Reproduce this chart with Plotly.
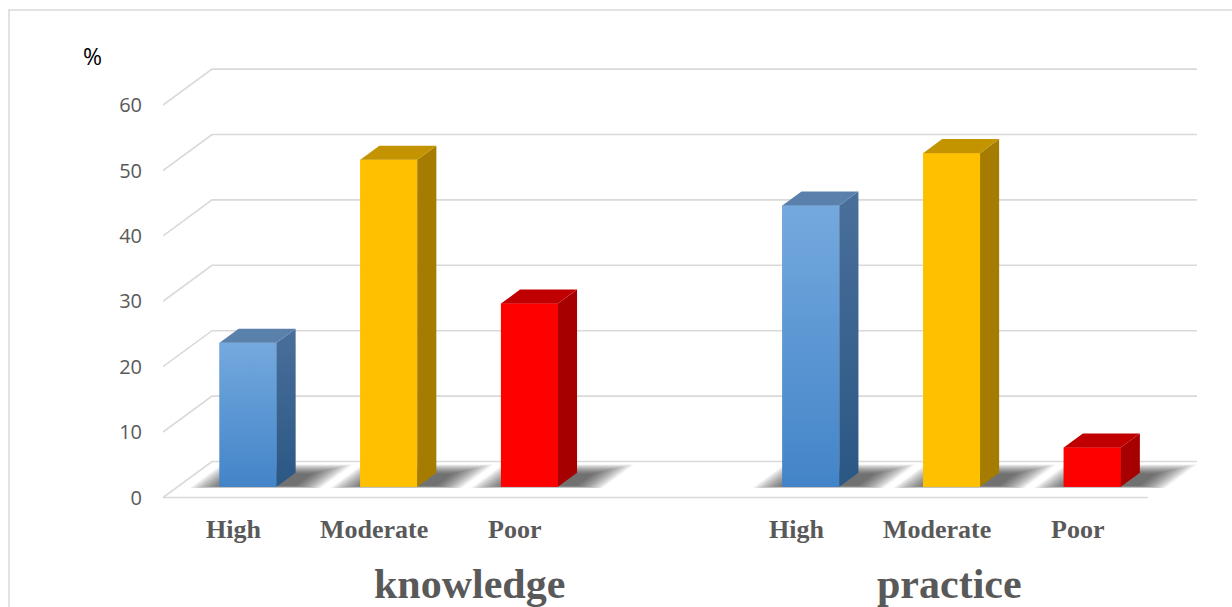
import plotly.graph_objects as go

# ---- data -------------------------------------------------------------
groups = ["knowledge", "practice"]
levels = ["High", "Moderate", "Poor"]
knowledge = [22, 50, 28]
practice = [43, 51, 6]
y_ticks = [0, 10, 20, 30, 40, 50, 60]

# ---- styling / geometry of the pseudo-3D view ------------------------
W, H = 1232, 607
SLOT_PX = 140.7          # pixels per category slot
UNIT_PX = 6.54           # pixels per percentage point
X0_PX = 163              # left front edge of the floor
Y0_PX = 497.5            # front floor line (value 0)
DX, DY = 49 / SLOT_PX, 36 / UNIT_PX     # full depth of the box (x in slots, y in %)
F = 0.30                 # depth of the bar front face
B = 0.39                 # bar depth (fraction of box depth)
BW = 0.405               # bar width in slots
N_SLOTS = 7
GRID = "#d9d9d9"
TXT = "#595959"

front = {"High": ["#74a9de", "#4384c8"], "Moderate": ["#ffc000", "#ffc000"], "Poor": ["#ff0000", "#ff0000"]}
side = {"High": ["#4a6f9b", "#2b5784"], "Moderate": ["#a67c00", "#a67c00"], "Poor": ["#a60000", "#a60000"]}
top = {"High": "#5a80ac", "Moderate": "#c49400", "Poor": "#c00000"}

slots = [0, 1, 2, 4, 5, 6]
values = knowledge + practice
cats = levels + levels

x_lo = -0.5
x_hi = x_lo + (W - X0_PX) / SLOT_PX
y_lo = (Y0_PX - H) / UNIT_PX
y_hi = Y0_PX / UNIT_PX

fig = go.Figure()
shapes = []

# chart border
shapes.append(dict(type="rect", xref="paper", yref="paper", x0=9 / W, x1=1.02, y0=-0.02, y1=1 - 10 / H,
                   line=dict(color=GRID, width=1.5), fillcolor="rgba(0,0,0,0)", layer="below"))


def lerp(a, b, t):
    return a + (b - a) * t


# soft floor shadows around each bar foot (stacked translucent layers)
N_SH = 20
for s in slots:
    xl_bar = s + F * DX - BW / 2
    xr_bar = xl_bar + BW + B * DX
    outer = (xl_bar - 0.20, xr_bar + 0.19, 0.26, 0.92)
    inner = (xl_bar + 0.01, xr_bar - 0.01, 0.32, 0.66)
    for k in range(N_SH):
        t = k / (N_SH - 1)
        xl, xr, d0, d1 = (lerp(o, i, t) for o, i in zip(outer, inner))
        p = (f"M {xl + (d0 - F) * DX},{d0 * DY} L {xr + (d0 - F) * DX},{d0 * DY} "
             f"L {xr + (d1 - F) * DX},{d1 * DY} L {xl + (d1 - F) * DX},{d1 * DY} Z")
        shapes.append(dict(type="path", xref="x", yref="y", layer="below", path=p,
                           fillcolor="rgba(30,30,30,0.042)", line=dict(width=0)))

# walls: gridlines along the left side and back wall, plus the floor front edge
for v in y_ticks:
    shapes.append(dict(type="path", xref="x", yref="y", layer="below",
                       path=f"M {x_lo},{v} L {x_lo + DX},{v + DY} L {x_lo + N_SLOTS + DX},{v + DY}",
                       line=dict(color=GRID, width=1.6)))
shapes.append(dict(type="line", xref="x", yref="y", layer="below",
                   x0=x_lo, y0=0, x1=x_lo + N_SLOTS, y1=0, line=dict(color=GRID, width=1.6)))

# front faces of the columns
for lvl in levels:
    xs = [s + F * DX for s, c in zip(slots, cats) if c == lvl]
    ys = [v for v, c in zip(values, cats) if c == lvl]
    fig.add_trace(go.Bar(x=xs, y=ys, base=[F * DY] * len(ys), width=BW, name=lvl,
                         marker=dict(color=front[lvl][1], line=dict(width=0)),
                         showlegend=False, hoverinfo="skip"))

# gradient overlay on front faces, then side and top faces
for s, v, c in zip(slots, values, cats):
    xl = s + F * DX - BW / 2
    xr = xl + BW
    b0 = F * DY
    t0 = b0 + v
    ox, oy = B * DX, B * DY
    fig.add_trace(go.Scatter(
        x=[xl, xr, xr, xl, xl], y=[b0, b0, t0, t0, b0], mode="lines", fill="toself",
        line=dict(width=0), fillgradient=dict(type="vertical", start=b0, stop=t0,
                                              colorscale=[[0, front[c][1]], [1, front[c][0]]]),
        showlegend=False, hoverinfo="skip"))
    fig.add_trace(go.Scatter(
        x=[xr, xr + ox, xr + ox, xr, xr], y=[b0, b0 + oy, t0 + oy, t0, b0], mode="lines", fill="toself",
        line=dict(width=0), fillgradient=dict(type="vertical", start=b0, stop=t0 + oy,
                                              colorscale=[[0, side[c][1]], [1, side[c][0]]]),
        showlegend=False, hoverinfo="skip"))
    fig.add_trace(go.Scatter(
        x=[xl, xr, xr + ox, xl + ox, xl], y=[t0, t0, t0 + oy, t0 + oy, t0], mode="lines", fill="toself",
        line=dict(width=0), fillcolor=top[c], showlegend=False, hoverinfo="skip"))

annotations = []
# category labels under each column
for s, c in zip(slots, cats):
    annotations.append(dict(x=s, y=(Y0_PX - 529) / UNIT_PX, xref="x", yref="y", text=f"<b>{c}</b>",
                            showarrow=False, font=dict(family="Liberation Serif", size=26, color=TXT)))
# group titles
for g, px in zip(groups, [469, 949]):
    annotations.append(dict(x=px / W, y=1 - 584 / H, xref="paper", yref="paper", text=f"<b>{g}</b>",
                            showarrow=False, xanchor="center", yanchor="middle",
                            font=dict(family="Liberation Serif", size=42, color=TXT)))
# unit label
annotations.append(dict(x=92 / W, y=1 - 56 / H, xref="paper", yref="paper", text="%", showarrow=False,
                        xanchor="center", yanchor="middle",
                        font=dict(family="Open Sans", size=23, color="#000000")))

fig.update_layout(
    width=W, height=H, margin=dict(l=0, r=0, t=0, b=0),
    paper_bgcolor="white", plot_bgcolor="rgba(0,0,0,0)",
    barmode="overlay", shapes=shapes, annotations=annotations,
    xaxis=dict(domain=[X0_PX / W, 1], range=[x_lo, x_hi], visible=False, fixedrange=True),
    yaxis=dict(domain=[0, 1], range=[y_lo, y_hi], tickvals=y_ticks, ticks="", showgrid=False,
               zeroline=False, showline=False, ticklabelstandoff=20,
               tickfont=dict(family="Open Sans", size=20, color=TXT), fixedrange=True),
)

fig.write_html("out.html")
